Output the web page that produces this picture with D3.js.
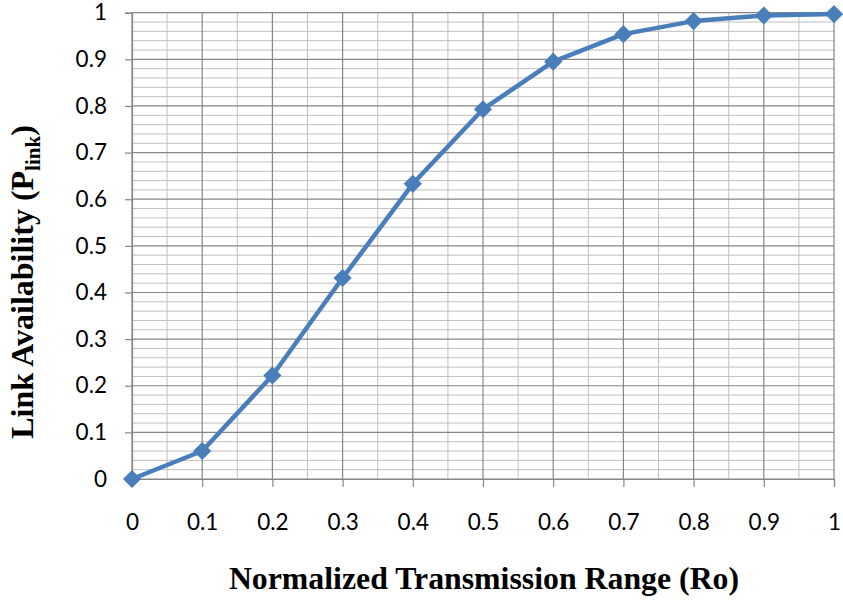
<!DOCTYPE html>
<html><head><meta charset="utf-8">
<script src="https://cdn.jsdelivr.net/npm/d3@7"></script>
<style>body{margin:0;background:#fff}</style>
</head><body>
<svg id="c" width="843" height="601"></svg>
<script>
const xValues = [0, 0.1, 0.2, 0.3, 0.4, 0.5, 0.6, 0.7, 0.8, 0.9, 1];
const yValues = [0, 0.06, 0.222, 0.431, 0.633, 0.793, 0.895, 0.954, 0.982, 0.994, 0.997];
const xTicks = [0, 0.1, 0.2, 0.3, 0.4, 0.5, 0.6, 0.7, 0.8, 0.9, 1];
const yTicks = [0, 0.1, 0.2, 0.3, 0.4, 0.5, 0.6, 0.7, 0.8, 0.9, 1];
const xTitle = "Normalized Transmission Range (Ro)";

const svg = d3.select("#c");
const m = {l: 132, r: 834, t: 12.7, b: 479};
const x = d3.scaleLinear().domain([0, 1]).range([m.l, m.r]);
const y = d3.scaleLinear().domain([0, 1]).range([m.b, m.t]);
const g = svg.append("g");

// minor horizontal grid (every 0.02)
const yMinor = d3.range(0, 51).map(i => i / 50).filter(v => Math.round(v * 50) % 5 !== 0);
g.selectAll(".hmin").data(yMinor).join("line")
  .attr("x1", m.l).attr("x2", m.r).attr("y1", d => y(d)).attr("y2", d => y(d))
  .attr("stroke", "#c0c0c0").attr("stroke-width", 1);
// minor vertical (every 0.05)
const xMinor = d3.range(0, 10).map(i => i / 10 + 0.05);
g.selectAll(".vmin").data(xMinor).join("line")
  .attr("y1", m.t).attr("y2", m.b).attr("x1", d => x(d)).attr("x2", d => x(d))
  .attr("stroke", "#c0c0c0").attr("stroke-width", 1);
// major grid
g.selectAll(".hmaj").data(yTicks).join("line")
  .attr("x1", m.l).attr("x2", m.r).attr("y1", d => y(d)).attr("y2", d => y(d))
  .attr("stroke", "#868686").attr("stroke-width", 1.2);
g.selectAll(".vmaj").data(xTicks).join("line")
  .attr("y1", m.t).attr("y2", m.b).attr("x1", d => x(d)).attr("x2", d => x(d))
  .attr("stroke", "#868686").attr("stroke-width", 1.2);

// axes
const fmt = d => d === 0 ? "0" : d === 1 ? "1" : d3.format(".1f")(d);
const yAxis = svg.append("g").attr("transform", `translate(${m.l},0)`)
  .call(d3.axisLeft(y).tickValues(yTicks).tickFormat(fmt).tickSize(7).tickPadding(18));
const xAxis = svg.append("g").attr("transform", `translate(0,${m.b})`)
  .call(d3.axisBottom(x).tickValues(xTicks).tickFormat(fmt).tickSize(8).tickPadding(27));
[yAxis, xAxis].forEach(a => {
  a.select(".domain").attr("stroke", "#868686").attr("stroke-width", 1.2);
  a.selectAll(".tick line").attr("stroke", "#868686").attr("stroke-width", 1.2);
  a.selectAll("text").attr("font-family", "Lato, 'Open Sans', sans-serif").attr("font-size", 22.5).attr("fill", "#000");
});

// line
const line = d3.line().x((d, i) => x(xValues[i])).y(d => y(d));
svg.append("path").datum(yValues).attr("d", line)
  .attr("fill", "none").attr("stroke", "#4a7ebb").attr("stroke-width", 4.5).attr("stroke-linejoin", "round");
svg.selectAll(".pt").data(yValues).join("path")
  .attr("d", d3.symbol().type(d3.symbolSquare).size(165))
  .attr("transform", (d, i) => `translate(${x(xValues[i])},${y(d)}) rotate(45)`)
  .attr("fill", "#4a7ebb");

// titles
svg.append("text").attr("x", 484).attr("y", 589).attr("text-anchor", "middle")
  .attr("font-family", "'Liberation Serif', 'Times New Roman', serif").attr("font-weight", "bold")
  .attr("font-size", 31.8).text(xTitle);
const yt = svg.append("text").attr("transform", "translate(33,282) rotate(-90)").attr("text-anchor", "middle")
  .attr("font-family", "'Liberation Serif', 'Times New Roman', serif").attr("font-weight", "bold")
  .attr("font-size", 32);
yt.append("tspan").text("Link Availability (P");
yt.append("tspan").attr("font-size", 21).attr("dy", 7).text("link");
yt.append("tspan").attr("dy", -7).text(")");
</script>
</body></html>
